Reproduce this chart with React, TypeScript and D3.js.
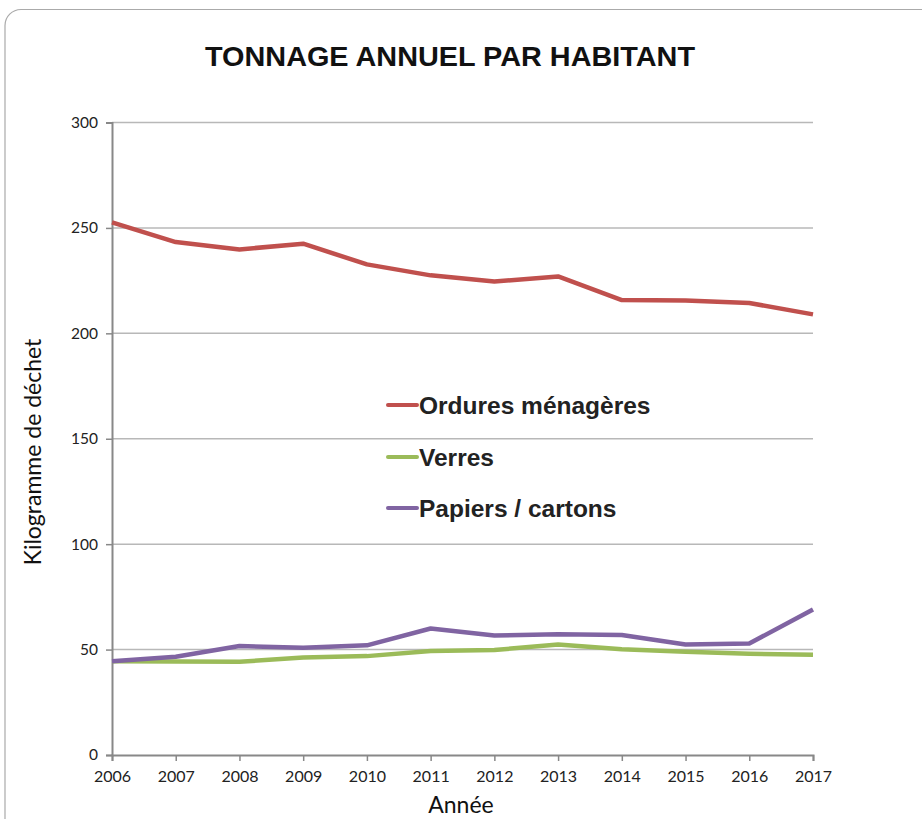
import * as d3 from "d3";
import React, { useRef, useEffect } from "react";

const years = [2006, 2007, 2008, 2009, 2010, 2011, 2012, 2013, 2014, 2015, 2016, 2017];
const ordures = [252.6, 243.3, 239.8, 242.5, 232.7, 227.5, 224.6, 227.0, 215.8, 215.6, 214.4, 209.0];
const verres = [44.5, 44.4, 44.2, 46.3, 46.9, 49.3, 49.8, 52.4, 50.2, 49.0, 48.0, 47.5];
const papiers = [44.5, 46.6, 51.7, 50.9, 52.0, 60.0, 56.7, 57.3, 56.9, 52.4, 52.9, 69.0];
const yTicks = [0, 50, 100, 150, 200, 250, 300];

const series = [
  { name: "Ordures ménagères", values: ordures, color: "#C0504D" },
  { name: "Verres", values: verres, color: "#9BBB59" },
  { name: "Papiers / cartons", values: papiers, color: "#8064A2" },
];

function App() {
  const ref = useRef<SVGSVGElement>(null);

  useEffect(() => {
    const svg = d3.select(ref.current);
    svg.selectAll("*").remove();

    const left = 112, right = 813, top = 122.5, bottom = 755;
    const x = d3.scaleLinear().domain([2006, 2017]).range([left, right]);
    const y = d3.scaleLinear().domain([0, 300]).range([bottom, top]);

    // frame
    svg.append("rect")
      .attr("x", 5).attr("y", 9.5)
      .attr("width", 940).attr("height", 840)
      .attr("rx", 16)
      .attr("fill", "none")
      .attr("stroke", "#aaa")
      .attr("stroke-width", 1.2);

    svg.append("text")
      .attr("x", 450).attr("y", 66)
      .attr("text-anchor", "middle")
      .attr("font-family", "Liberation Sans, Arial, sans-serif")
      .attr("font-weight", "bold")
      .attr("font-size", 28)
      .attr("textLength", 490)
      .attr("lengthAdjust", "spacingAndGlyphs")
      .attr("fill", "#111")
      .text("TONNAGE ANNUEL PAR HABITANT");

    // grid
    svg.append("g")
      .selectAll("line")
      .data(yTicks.filter((d) => d > 0))
      .enter()
      .append("line")
      .attr("x1", left).attr("x2", right)
      .attr("y1", (d) => y(d)).attr("y2", (d) => y(d))
      .attr("stroke", "#b8b8b8")
      .attr("stroke-width", 1.5);

    // axes
    const yAxis = svg.append("g")
      .attr("transform", "translate(" + left + ",0)")
      .call(d3.axisLeft(y).tickValues(yTicks).tickSize(6).tickPadding(8));
    const xAxis = svg.append("g")
      .attr("transform", "translate(0," + bottom + ")")
      .call(d3.axisBottom(x).tickValues(years).tickFormat(d3.format("d")).tickSize(6).tickPadding(10));

    [yAxis, xAxis].forEach((a) => {
      a.select(".domain").attr("stroke", "#888").attr("stroke-width", 2);
      a.selectAll(".tick line").attr("stroke", "#888").attr("stroke-width", 1.5);
      a.selectAll("text")
        .attr("font-family", "Lato, sans-serif")
        .attr("font-size", 15.5)
        .attr("fill", "#222");
    });
    xAxis.selectAll("text").attr("font-size", 16);

    const line = d3.line<number>()
      .x((d, i) => x(years[i]))
      .y((d) => y(d));

    series.forEach((s) => {
      svg.append("path")
        .datum(s.values)
        .attr("d", line)
        .attr("fill", "none")
        .attr("stroke", s.color)
        .attr("stroke-width", 4.5)
        .attr("stroke-linejoin", "round");
    });

    // legend
    const legendY = [405, 457, 508];
    series.forEach((s, i) => {
      svg.append("line")
        .attr("x1", 388).attr("x2", 417)
        .attr("y1", legendY[i]).attr("y2", legendY[i])
        .attr("stroke", s.color)
        .attr("stroke-width", 4)
        .attr("stroke-linecap", "round");
      svg.append("text")
        .attr("x", 419).attr("y", legendY[i] + 9)
        .attr("font-family", "Liberation Sans, Arial, sans-serif")
        .attr("font-weight", "bold")
        .attr("font-size", 24.5)
        .attr("fill", "#222")
        .text(s.name);
    });

    svg.append("text")
      .attr("transform", "translate(41,452)rotate(-90)")
      .attr("text-anchor", "middle")
      .attr("font-family", "Lato, sans-serif")
      .attr("font-size", 23)
      .attr("fill", "#111")
      .text("Kilogramme de déchet");

    svg.append("text")
      .attr("x", 461).attr("y", 813)
      .attr("text-anchor", "middle")
      .attr("font-family", "Lato, sans-serif")
      .attr("font-size", 23)
      .attr("fill", "#111")
      .text("Année");
  }, []);

  return (
    <svg
      ref={ref}
      width={922}
      height={819}
      style={{ position: "absolute", left: 0, top: 0, background: "#fff" }}
    ></svg>
  );
}

export default App;
